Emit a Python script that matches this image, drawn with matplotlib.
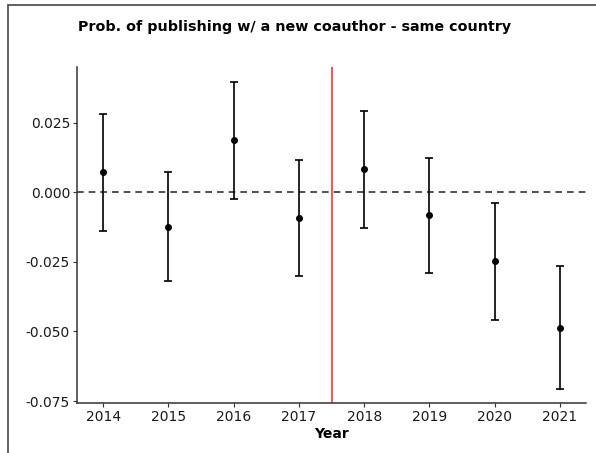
import matplotlib
matplotlib.use("Agg")
import matplotlib.pyplot as plt
from matplotlib.patches import Rectangle

years = [2014, 2015, 2016, 2017, 2018, 2019, 2020, 2021]
estimate = [0.0072, -0.0126, 0.0187, -0.0094, 0.0083, -0.0083, -0.0248, -0.0486]
ci_low = [-0.0140, -0.0320, -0.0025, -0.0302, -0.0129, -0.0291, -0.0460, -0.0705]
ci_high = [0.0281, 0.0072, 0.0396, 0.0115, 0.0291, 0.0122, -0.0040, -0.0266]
yticks = [0.025, 0.000, -0.025, -0.050, -0.075]

fig = plt.figure(figsize=(5.96, 4.53), dpi=100)
ax = fig.add_axes([77 / 596, 50 / 453, 509 / 596, 336 / 453])

# outer frame of the figure (cut off on the right and bottom)
fig.patches.append(Rectangle((8 / 596, -0.1), 1.2, 448 / 453 + 0.1,
                             transform=fig.transFigure, fill=False,
                             edgecolor="#555555", linewidth=1.3))

ax.axhline(0, color="#333333", linestyle=(0, (4, 3)), linewidth=1.2, zorder=1)
ax.axvline(2017.5, color="#ff3333", linewidth=1.2, zorder=1)

err_lo = [e - l for e, l in zip(estimate, ci_low)]
err_hi = [h - e for e, h in zip(estimate, ci_high)]
ax.errorbar(years, estimate, yerr=[err_lo, err_hi], fmt="o", color="black",
            markersize=4, elinewidth=1.2, capsize=3.2, capthick=1.2, zorder=3)

ax.set_xlim(2013.6, 2021.4)
ax.set_ylim(-0.0757, 0.045)
ax.set_xticks(years)
ax.set_xticklabels([str(y) for y in years])
ax.set_yticks(yticks)
ax.set_yticklabels([f"{v:.3f}" for v in yticks])

for s in ["top", "right"]:
    ax.spines[s].set_visible(False)
for s in ["left", "bottom"]:
    ax.spines[s].set_color("#333333")
    ax.spines[s].set_linewidth(1.1)
ax.tick_params(axis="both", length=3, width=0.8, color="#333333",
               labelsize=10, labelcolor="#1a1a1a", pad=2)

ax.set_xlabel("Year", fontsize=10, fontweight="bold", labelpad=2)
fig.text(78 / 596, 1 - 27 / 453, "Prob. of publishing w/ a new coauthor - same country",
         fontsize=10.3, fontweight="bold", ha="left", va="center")

fig.savefig("out.png", dpi=100, facecolor="white")
